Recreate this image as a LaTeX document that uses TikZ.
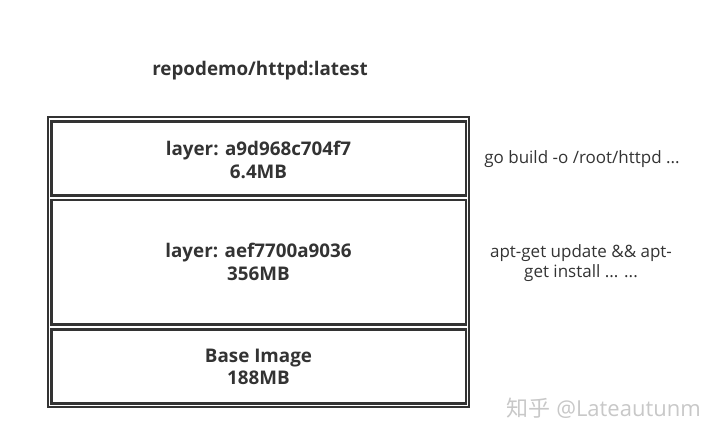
\documentclass[tikz,border=0pt]{standalone}
\usepackage{fontspec}
\setmainfont{Open Sans}
\newfontfamily\cjk{Noto Sans CJK SC}
\definecolor{ink}{HTML}{333333}
\definecolor{wm}{HTML}{C8C8C8}
\begin{document}
\begin{tikzpicture}[x=1pt,y=-1pt,
  frame/.style={draw=ink,line width=2.4pt},
  layerbox/.style={draw=ink,line width=2.4pt},
  boldlbl/.style={font=\fontsize{18.8}{22.5}\selectfont\bfseries,text=ink,align=center},
  note/.style={font=\fontsize{17}{19.5}\selectfont,text=ink,align=center}]
\useasboundingbox (0,0) rectangle (716,439);
\node[boldlbl] (title) at (260,71) {repodemo/httpd:latest};
\draw[frame] (48,117) rectangle (469,407);
\draw[layerbox] (51.5,121.5) rectangle (466,195.5);
\draw[layerbox] (51.5,200) rectangle (466,324.5);
\draw[layerbox] (51.5,329.5) rectangle (466,403.5);
\node[boldlbl] (l1) at (258.5,160) {layer: a9d968c704f7\\6.4MB};
\node[boldlbl] (l2) at (258.5,262) {layer: aef7700a9036\\356MB};
\node[boldlbl] (l3) at (258.5,367) {Base Image\\188MB};
\node[note] (n1) at (582,159) {go build -o /root/httpd ...};
\node[note] (n2) at (581,263) {apt-get update \&\& apt-\\get install ... ...};
\node[font=\fontsize{22}{26}\selectfont,text=wm,anchor=west] (wmk) at (503,408) {{\cjk 知乎} @Lateautunm};
\end{tikzpicture}
\end{document}
